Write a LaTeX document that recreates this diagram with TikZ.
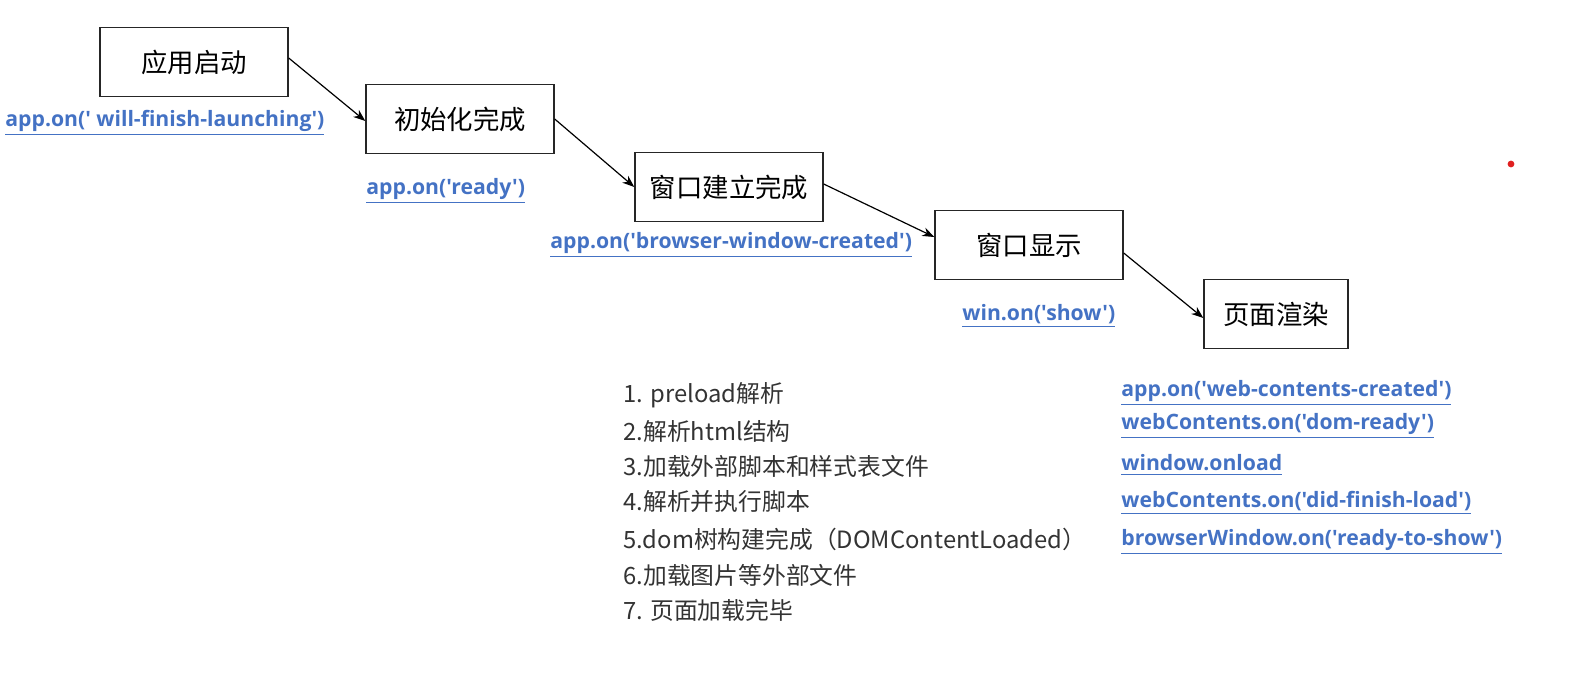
\documentclass[tikz,border=0pt]{standalone}
\usepackage{fontspec}
\setmainfont{Noto Sans CJK SC}
\newfontfamily\evfont{Open Sans}
\usepackage{xcolor}
\usetikzlibrary{arrows.meta}
\definecolor{EvBlue}{HTML}{4472C4}
\definecolor{EvGray}{HTML}{333333}
\definecolor{EvDot}{HTML}{E02020}
\tikzset{
  stagebox/.style={draw=black!85,line width=0.7pt,minimum width=94pt,minimum height=34.5pt,inner sep=0pt,font=\fontsize{13.2}{15}\selectfont},
  evlabel/.style={anchor=west,inner sep=0pt,text=EvBlue,font=\evfont\bfseries\fontsize{10.6}{12}\selectfont},
  steptext/.style={anchor=west,inner sep=0pt,text=EvGray,font=\fontsize{11.9}{13}\selectfont},
  flow/.style={-{Stealth[length=6pt,width=4.5pt]},line width=0.6pt}
}
\newcommand\evt[1]{\underline{#1}}
\begin{document}
\begin{tikzpicture}[x=0.5pt,y=-0.5pt]
\path[use as bounding box] (0,0) rectangle (1576,698);
\node[stagebox] (start) at (194,62) {应用启动};
\node[stagebox] (ready) at (460,119) {初始化完成};
\node[stagebox] (wincreated) at (729,187) {窗口建立完成};
\node[stagebox] (winshow) at (1029,245) {窗口显示};
\node[stagebox,minimum width=72pt] (render) at (1276,314) {页面渲染};
\draw[flow] ([yshift=2pt]start.east) -- ([yshift=-1pt]ready.west);
\draw[flow] (ready.east) -- (wincreated.west);
\draw[flow] ([yshift=1.5pt]wincreated.east) -- ([yshift=4pt]winshow.west);
\draw[flow] ([yshift=-4pt]winshow.east) -- ([yshift=-2pt]render.west);
\node[evlabel] (evlaunch) at (5,123) {\evt{app.on(' will-finish-launching')}};
\node[evlabel] (evready) at (366,191) {\evt{app.on('ready')}};
\node[evlabel] (evbrowser) at (550,245) {\evt{app.on('browser-window-created')}};
\node[evlabel] (evshow) at (962,316) {\evt{win.on('show')}};
\node[evlabel] (evweb) at (1121,393) {\evt{app.on('web-contents-created')}};
\node[evlabel] (evdom) at (1121,426) {\evt{webContents.on('dom-ready')}};
\node[evlabel] (evonload) at (1121,465) {\evt{window.onload}};
\node[evlabel] (evfinish) at (1121,503) {\evt{webContents.on('did-finish-load')}};
\node[evlabel] (evtoshow) at (1121,542) {\evt{browserWindow.on('ready-to-show')}};
\node[steptext] (s1) at (623,395) {1. preload解析};
\node[steptext] (s2) at (623,431) {2.解析html结构};
\node[steptext] (s3) at (623,466) {3.加载外部脚本和样式表文件};
\node[steptext] (s4) at (623,501) {4.解析并执行脚本};
\node[steptext] (s5) at (623,539) {5.dom树构建完成（DOMContentLoaded）};
\node[steptext] (s6) at (623,575) {6.加载图片等外部文件};
\node[steptext] (s7) at (623,610) {7. 页面加载完毕};
\fill[EvDot] (1511,164) circle (1.7pt);
\end{tikzpicture}
\end{document}
